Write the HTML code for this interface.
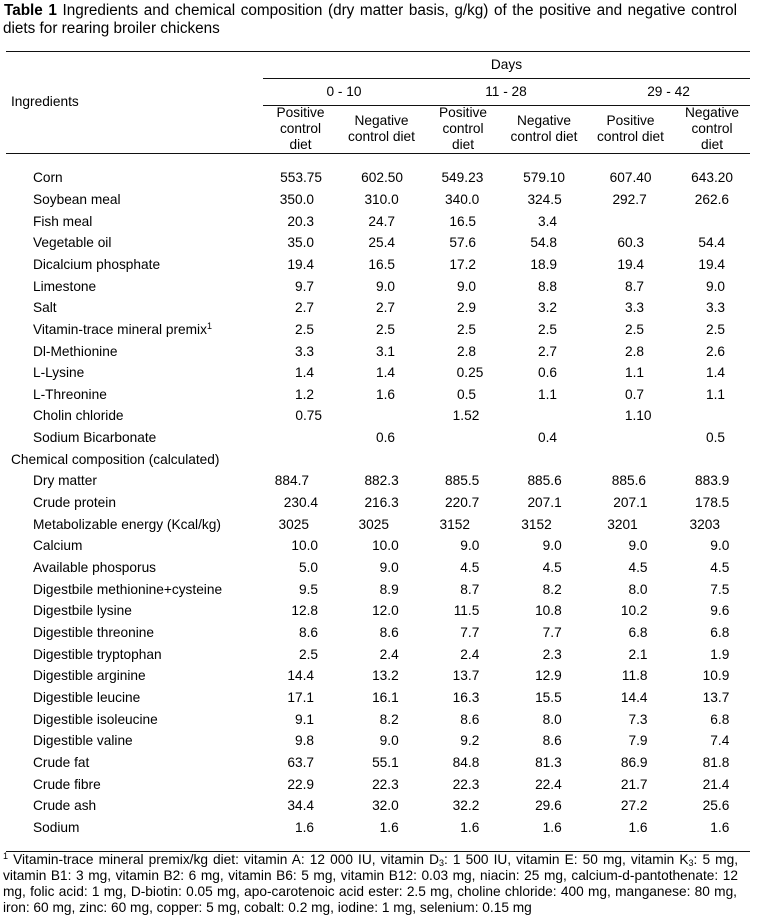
<!DOCTYPE html>
<html><head><meta charset="utf-8">
<style>
*{margin:0;padding:0;box-sizing:border-box}
html,body{width:757px;height:919px;background:#fff;overflow:hidden}
body{position:relative;font-family:"Liberation Sans",Arial,sans-serif;color:#000;font-size:13.7px}
.t{position:absolute;left:4px;width:733px;font-size:15.3px;line-height:18px;text-align:justify;text-align-last:justify;white-space:nowrap}
.t2{position:absolute;left:3px;font-size:15.3px;line-height:18px;white-space:nowrap}
.rule{position:absolute;height:1px;background:#111}
.h{position:absolute;line-height:16px;text-align:center;white-space:nowrap}
.r{position:absolute;left:0;width:757px;height:16px;line-height:16px}
.r span{position:absolute;top:0;white-space:nowrap}
.r .l{left:33px}
.r .s{left:11px}
.c1{right:439px}.c2{right:358.3px}.c3{right:277.7px}.c4{right:195.3px}.c5{right:109.5px}.c6{right:27.7px}
.ing .c1{right:443px}.ing .c2{right:362px}.ing .c3{right:281px}.ing .c4{right:200px}.ing .c5{right:113px}.ing .c6{right:32px}
.lo .c1{right:443px}
sup{font-size:9px;vertical-align:0;position:relative;top:-5px}
.sb{font-size:9px;position:relative;top:2px}
.f{position:absolute;left:3px;width:735px;line-height:16px;text-align:justify;text-align-last:justify}
.f4{position:absolute;left:3px;line-height:16px;white-space:nowrap}
</style></head><body>

<div class="t" style="top:2px"><b>Table 1</b> Ingredients and chemical composition (dry matter basis, g/kg) of the positive and negative control</div>
<div class="t2" style="top:20px">diets for rearing broiler chickens</div>

<div class="rule" style="left:6px;width:744px;top:51px"></div>
<div class="rule" style="left:263px;width:487px;top:78px"></div>
<div class="rule" style="left:263px;width:487px;top:105px"></div>
<div class="rule" style="left:6px;width:744px;top:153px"></div>
<div class="rule" style="left:6px;width:744px;top:851px"></div>

<div class="h" style="left:263px;width:487px;top:57px">Days</div>
<div class="h" style="left:263px;width:162px;top:84px">0 - 10</div>
<div class="h" style="left:425px;width:162px;top:84px">11 - 28</div>
<div class="h" style="left:587px;width:163px;top:84px">29 - 42</div>
<div class="h" style="left:11px;top:93.7px;text-align:left">Ingredients</div>

<div class="h" style="left:263px;width:75px;top:105.3px">Positive<br>control<br>diet</div>
<div class="h" style="left:338px;width:87px;top:113px">Negative<br>control diet</div>
<div class="h" style="left:425px;width:76px;top:105.3px">Positive<br>control<br>diet</div>
<div class="h" style="left:501px;width:86px;top:113px">Negative<br>control diet</div>
<div class="h" style="left:587px;width:87px;top:113px">Positive<br>control diet</div>
<div class="h" style="left:674px;width:76px;top:105.3px">Negative<br>control<br>diet</div>

<div class="r ing" style="top:170.3px"><span class="l">Corn</span><span class="c1" style="right:435px">553.75</span><span class="c2" style="right:354px">602.50</span><span class="c3" style="right:273.7px">549.23</span><span class="c4" style="right:192px">579.10</span><span class="c5" style="right:105.5px">607.40</span><span class="c6" style="right:24px">643.20</span></div>
<div class="r ing" style="top:191.95px"><span class="l">Soybean meal</span><span class="c1">350.0</span><span class="c2" style="right:358.3px">310.0</span><span class="c3" style="right:277.7px">340.0</span><span class="c4" style="right:195.3px">324.5</span><span class="c5" style="right:110.3px">292.7</span><span class="c6" style="right:28px">262.6</span></div>
<div class="r ing" style="top:213.6px"><span class="l">Fish meal</span><span class="c1">20.3</span><span class="c2">24.7</span><span class="c3">16.5</span><span class="c4">3.4</span></div>
<div class="r ing" style="top:235.25px"><span class="l">Vegetable oil</span><span class="c1">35.0</span><span class="c2">25.4</span><span class="c3">57.6</span><span class="c4">54.8</span><span class="c5">60.3</span><span class="c6">54.4</span></div>
<div class="r ing" style="top:256.9px"><span class="l">Dicalcium phosphate</span><span class="c1">19.4</span><span class="c2">16.5</span><span class="c3">17.2</span><span class="c4">18.9</span><span class="c5">19.4</span><span class="c6">19.4</span></div>
<div class="r ing" style="top:278.55px"><span class="l">Limestone</span><span class="c1">9.7</span><span class="c2">9.0</span><span class="c3">9.0</span><span class="c4">8.8</span><span class="c5">8.7</span><span class="c6">9.0</span></div>
<div class="r ing" style="top:300.2px"><span class="l">Salt</span><span class="c1">2.7</span><span class="c2">2.7</span><span class="c3">2.9</span><span class="c4">3.2</span><span class="c5">3.3</span><span class="c6">3.3</span></div>
<div class="r ing" style="top:321.85px"><span class="l">Vitamin-trace mineral premix<sup>1</sup></span><span class="c1">2.5</span><span class="c2">2.5</span><span class="c3">2.5</span><span class="c4">2.5</span><span class="c5">2.5</span><span class="c6">2.5</span></div>
<div class="r ing" style="top:343.5px"><span class="l">Dl-Methionine</span><span class="c1">3.3</span><span class="c2">3.1</span><span class="c3">2.8</span><span class="c4">2.7</span><span class="c5">2.8</span><span class="c6">2.6</span></div>
<div class="r ing" style="top:365.15px"><span class="l">L-Lysine</span><span class="c1">1.4</span><span class="c2">1.4</span><span class="c3" style="right:273.7px">0.25</span><span class="c4">0.6</span><span class="c5">1.1</span><span class="c6">1.4</span></div>
<div class="r ing" style="top:386.8px"><span class="l">L-Threonine</span><span class="c1">1.2</span><span class="c2">1.6</span><span class="c3">0.5</span><span class="c4">1.1</span><span class="c5">0.7</span><span class="c6">1.1</span></div>
<div class="r ing" style="top:408.45px"><span class="l">Cholin chloride</span><span class="c1" style="right:435px">0.75</span><span class="c3" style="right:277.7px">1.52</span><span class="c5" style="right:105.5px">1.10</span></div>
<div class="r ing" style="top:430.1px"><span class="l">Sodium Bicarbonate</span><span class="c2">0.6</span><span class="c4">0.4</span><span class="c6">0.5</span></div>
<div class="r" style="top:451.75px"><span class="s">Chemical composition (calculated)</span></div>
<div class="r" style="top:473.4px"><span class="l">Dry matter</span><span class="c1" style="right:448px">884.7</span><span class="c2">882.3</span><span class="c3">885.5</span><span class="c4">885.6</span><span class="c5" style="right:111px">885.6</span><span class="c6">883.9</span></div>
<div class="r" style="top:495.05px"><span class="l">Crude protein</span><span class="c1">230.4</span><span class="c2">216.3</span><span class="c3">220.7</span><span class="c4">207.1</span><span class="c5">207.1</span><span class="c6">178.5</span></div>
<div class="r" style="top:516.7px"><span class="l">Metabolizable energy (Kcal/kg)</span><span class="c1" style="right:448px">3025</span><span class="c2" style="right:368px">3025</span><span class="c3" style="right:287px">3152</span><span class="c4" style="right:205.3px">3152</span><span class="c5" style="right:119.3px">3201</span><span class="c6" style="right:37px">3203</span></div>
<div class="r" style="top:538.35px"><span class="l">Calcium</span><span class="c1">10.0</span><span class="c2">10.0</span><span class="c3">9.0</span><span class="c4">9.0</span><span class="c5">9.0</span><span class="c6">9.0</span></div>
<div class="r" style="top:560px"><span class="l">Available phosporus</span><span class="c1">5.0</span><span class="c2">9.0</span><span class="c3">4.5</span><span class="c4">4.5</span><span class="c5">4.5</span><span class="c6">4.5</span></div>
<div class="r" style="top:581.65px"><span class="l">Digestbile methionine+cysteine</span><span class="c1">9.5</span><span class="c2">8.9</span><span class="c3">8.7</span><span class="c4">8.2</span><span class="c5">8.0</span><span class="c6">7.5</span></div>
<div class="r" style="top:603.3px"><span class="l">Digestbile lysine</span><span class="c1">12.8</span><span class="c2">12.0</span><span class="c3">11.5</span><span class="c4">10.8</span><span class="c5">10.2</span><span class="c6">9.6</span></div>
<div class="r" style="top:624.95px"><span class="l">Digestible threonine</span><span class="c1">8.6</span><span class="c2">8.6</span><span class="c3">7.7</span><span class="c4">7.7</span><span class="c5">6.8</span><span class="c6">6.8</span></div>
<div class="r" style="top:646.6px"><span class="l">Digestible tryptophan</span><span class="c1">2.5</span><span class="c2">2.4</span><span class="c3">2.4</span><span class="c4">2.3</span><span class="c5">2.1</span><span class="c6">1.9</span></div>
<div class="r lo" style="top:668.25px"><span class="l">Digestible arginine</span><span class="c1">14.4</span><span class="c2">13.2</span><span class="c3">13.7</span><span class="c4">12.9</span><span class="c5">11.8</span><span class="c6">10.9</span></div>
<div class="r lo" style="top:689.9px"><span class="l">Digestible leucine</span><span class="c1">17.1</span><span class="c2">16.1</span><span class="c3">16.3</span><span class="c4">15.5</span><span class="c5">14.4</span><span class="c6">13.7</span></div>
<div class="r lo" style="top:711.55px"><span class="l">Digestible isoleucine</span><span class="c1">9.1</span><span class="c2">8.2</span><span class="c3">8.6</span><span class="c4">8.0</span><span class="c5">7.3</span><span class="c6">6.8</span></div>
<div class="r lo" style="top:733.2px"><span class="l">Digestible valine</span><span class="c1">9.8</span><span class="c2">9.0</span><span class="c3">9.2</span><span class="c4">8.6</span><span class="c5">7.9</span><span class="c6">7.4</span></div>
<div class="r lo" style="top:754.85px"><span class="l">Crude fat</span><span class="c1">63.7</span><span class="c2">55.1</span><span class="c3">84.8</span><span class="c4">81.3</span><span class="c5">86.9</span><span class="c6">81.8</span></div>
<div class="r lo" style="top:776.5px"><span class="l">Crude fibre</span><span class="c1">22.9</span><span class="c2">22.3</span><span class="c3">22.3</span><span class="c4">22.4</span><span class="c5">21.7</span><span class="c6">21.4</span></div>
<div class="r lo" style="top:798.15px"><span class="l">Crude ash</span><span class="c1">34.4</span><span class="c2">32.0</span><span class="c3">32.2</span><span class="c4">29.6</span><span class="c5">27.2</span><span class="c6">25.6</span></div>
<div class="r lo" style="top:819.8px"><span class="l">Sodium</span><span class="c1">1.6</span><span class="c2">1.6</span><span class="c3">1.6</span><span class="c4">1.6</span><span class="c5">1.6</span><span class="c6">1.6</span></div>

<div class="f" style="top:852px"><sup>1</sup> Vitamin-trace mineral premix/kg diet: vitamin A: 12 000 IU, vitamin D<span class="sb">3</span>: 1 500 IU, vitamin E: 50 mg, vitamin K<span class="sb">3</span>: 5 mg,</div>
<div class="f" style="top:868px">vitamin B1: 3 mg, vitamin B2: 6 mg, vitamin B6: 5 mg, vitamin B12: 0.03 mg, niacin: 25 mg, calcium-d-pantothenate: 12</div>
<div class="f" style="top:884.3px;width:734px">mg, folic acid: 1 mg, D-biotin: 0.05 mg, apo-carotenoic acid ester: 2.5 mg, choline chloride: 400 mg, manganese: 80 mg,</div>
<div class="f4" style="top:900.3px">iron: 60 mg, zinc: 60 mg, copper: 5 mg, cobalt: 0.2 mg, iodine: 1 mg, selenium: 0.15 mg</div>

</body></html>
